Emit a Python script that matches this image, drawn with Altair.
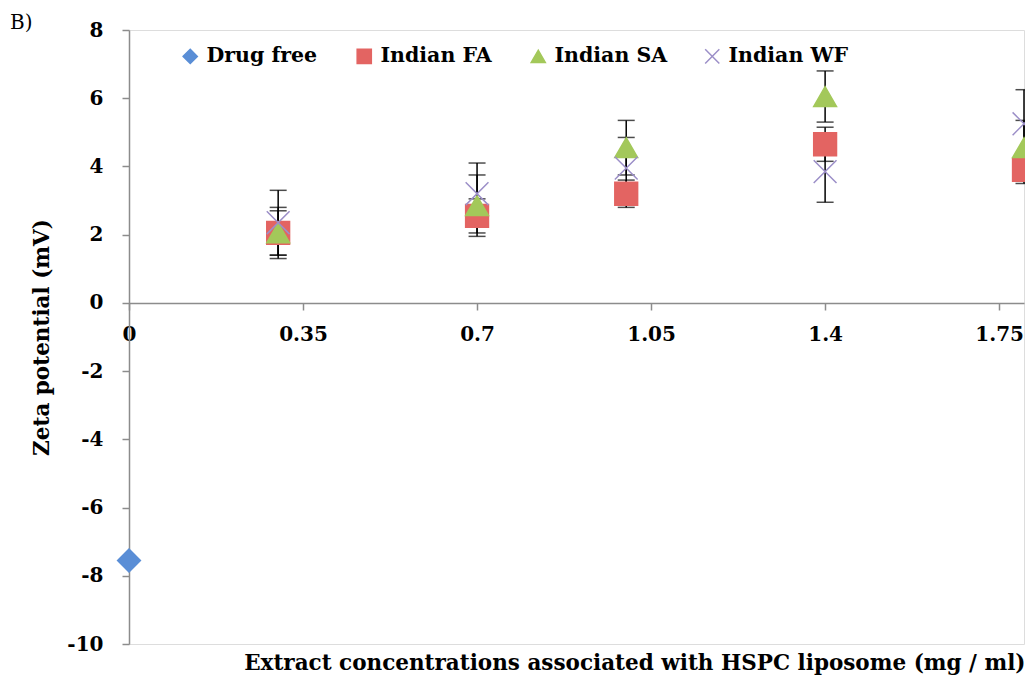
import altair as alt
import pandas as pd

FONT = "DejaVu Serif"

series_names = ["Drug free", "Indian FA", "Indian SA", "Indian WF"]
series_colors = ["#5A8ED6", "#E36462", "#A3C85A", "#9C8FC8"]
series_shapes = ["diamond", "square", "triangle-up", "M-1,-1L1,1M-1,1L1,-1"]

drug_free_x = [0.0]
drug_free_y = [-7.55]

conc = [0.3, 0.7, 1.0, 1.4, 1.8]
fa_y = [2.05, 2.55, 3.2, 4.65, 3.9]
fa_err = [0.75, 0.5, 0.4, 0.5, 0.4]
sa_y = [2.05, 2.85, 4.55, 6.05, 4.55]
sa_err = [0.65, 0.9, 0.8, 0.75, 0.8]
wf_y = [2.35, 3.2, 3.95, 3.85, 5.25]
wf_err = [0.95, 0.9, 0.9, 0.9, 1.0]

x_ticks = [0, 0.35, 0.7, 1.05, 1.4, 1.75]
y_ticks = [-10, -8, -6, -4, -2, 0, 2, 4, 6, 8]

x_title = "Extract concentrations associated with HSPC liposome (mg / ml)"
y_title = "Zeta potential (mV)"

rows = []
for xv, yv in zip(drug_free_x, drug_free_y):
    rows.append({"series": "Drug free", "x": xv, "y": yv})
err_rows = []
for name, ys, es in [("Indian FA", fa_y, fa_err), ("Indian SA", sa_y, sa_err), ("Indian WF", wf_y, wf_err)]:
    for xv, yv, ev in zip(conc, ys, es):
        rows.append({"series": name, "x": xv, "y": yv})
        err_rows.append({"series": name, "x": xv, "lo": yv - ev, "hi": yv + ev})
pts = pd.DataFrame(rows)
errs = pd.DataFrame(err_rows)

W, H = 895, 614
axis_col = "#8c8c8c"

x_scale = alt.Scale(domain=[0, 1.8], nice=False, zero=False)
y_scale = alt.Scale(domain=[-10, 8], nice=False)

x_axis = alt.Axis(
    values=x_ticks, labelExpr="toString(datum.value)", grid=False,
    domainColor=axis_col, domainWidth=1.5, tickColor=axis_col, tickWidth=1.5, tickSize=7,
    labelPadding=14, labelFont=FONT, labelFontSize=20, labelFontWeight="bold", labelColor="black",
    labelFlush=False, labelOverlap=False,
    offset=-341, title=x_title, titleX=W + 1, titleY=360, titleAlign="right", titleBaseline="middle",
    titleFont=FONT, titleFontSize=21.5, titleFontWeight="bold", titleColor="black",
)
y_axis = alt.Axis(
    values=y_ticks, labelExpr="toString(datum.value)", grid=False,
    domainColor=axis_col, domainWidth=1.5, tickColor=axis_col, tickWidth=1.5, tickSize=7,
    labelPadding=19, labelFont=FONT, labelFontSize=20, labelFontWeight="bold", labelColor="black",
    labelFlush=False, labelOverlap=False,
    title=y_title, titleX=-87, titleY=307, titleAngle=270, titleAlign="center", titleBaseline="middle",
    titleFont=FONT, titleFontSize=21.5, titleFontWeight="bold", titleColor="black",
)

legend = alt.Legend(
    orient="none", legendX=51, legendY=16, direction="horizontal", title=None,
    labelFont=FONT, labelFontSize=20.5, labelFontWeight="bold", labelColor="black",
    symbolSize=200, symbolStrokeWidth=1.5, columnPadding=27, gridAlign="all", labelOffset=6,
)

err_layer = alt.Chart(errs).mark_errorbar(ticks=True, size=17, thickness=1.5, color="black").encode(
    x=alt.X("x:Q", scale=x_scale, axis=x_axis),
    y=alt.Y("lo:Q", scale=y_scale, axis=y_axis),
    y2="hi:Q",
)

pt_layer = alt.Chart(pts).mark_point(filled=True, size=520, strokeWidth=1.5, opacity=1).encode(
    x=alt.X("x:Q", scale=x_scale, axis=x_axis),
    y=alt.Y("y:Q", scale=y_scale, axis=y_axis),
    color=alt.Color("series:N", scale=alt.Scale(domain=series_names, range=series_colors), legend=legend),
    stroke=alt.Stroke("series:N", scale=alt.Scale(domain=series_names, range=series_colors), legend=legend),
    shape=alt.Shape("series:N", scale=alt.Scale(domain=series_names, range=series_shapes), legend=legend),
)

chart = alt.layer(err_layer, pt_layer).properties(
    width=W, height=H,
    autosize=alt.AutoSizeParams(type="none"),
    padding={"left": 121, "top": 22, "right": 1, "bottom": 32},
    title=alt.TitleParams("B)", anchor="start", frame="group", align="left", dx=-119, dy=31, offset=8,
                          baseline="middle", font=FONT, fontSize=20, fontWeight="normal", color="black"),
).configure_view(stroke=None).configure(background="white")

chart.save("out.html", embed_options={"renderer": "svg", "actions": False})
